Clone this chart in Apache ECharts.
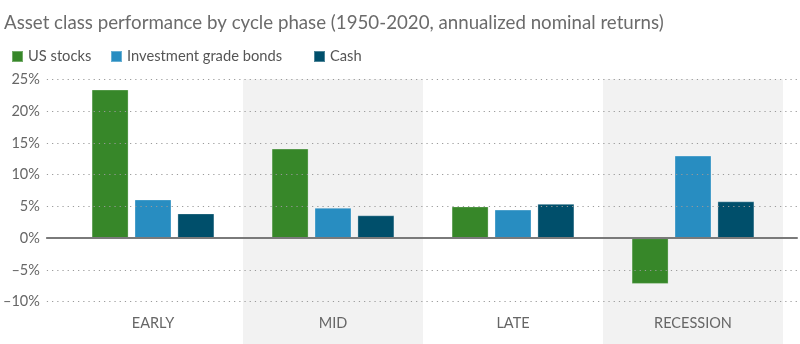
<!DOCTYPE html>
<html>
<head>
<meta charset="utf-8">
<script src="https://cdn.jsdelivr.net/npm/echarts@6/dist/echarts.min.js"></script>
<style>
html,body{margin:0;padding:0;background:#fff;}
#chart{width:800px;height:344px;}
</style>
</head>
<body>
<div id="chart"></div>
<script>
const titleText = 'Asset class performance by cycle phase (1950-2020, annualized nominal returns)';
const categories = ['EARLY', 'MID', 'LATE', 'RECESSION'];
const shadedCategories = ['MID', 'RECESSION'];
const seriesNames = ['US stocks', 'Investment grade bonds', 'Cash'];
const usStocks = [23.4, 14.1, 5.0, -7.2];
const bonds = [6.1, 4.8, 4.5, 13.0];
const cash = [3.9, 3.6, 5.4, 5.8];
const yTicks = [-10, -5, 0, 5, 10, 15, 20, 25];

const colors = ['#378729', '#288dc1', '#004f6b'];
const legendLefts = [6, 105, 308];
const FONT = 'Lato';

const chart = echarts.init(document.getElementById('chart'), null, {renderer: 'canvas'});

function fmt(v) {
  return (v < 0 ? '\u2013' + Math.abs(v) : String(v)) + '%';
}

const seriesData = [usStocks, bonds, cash];
const barSeries = seriesData.map((d, i) => ({
  name: seriesNames[i],
  type: 'bar',
  xAxisIndex: 1,
  yAxisIndex: 1,
  data: d,
  barWidth: 37,
  barGap: '16%',
  z: 2,
  itemStyle: {
    color: colors[i],
    borderColor: 'rgba(255,255,255,0.3)',
    borderWidth: 1
  }
}));

const legends = seriesNames.map((n, i) => ({
  data: [n],
  left: legendLefts[i],
  top: 44,
  icon: 'rect',
  itemWidth: 11,
  itemHeight: 11,
  textStyle: {fontFamily: FONT, fontSize: 14.7, color: '#555'}
}));

const option = {
  backgroundColor: '#ffffff',
  animation: false,
  title: {
    text: titleText,
    left: -1,
    top: 8,
    textStyle: {fontFamily: FONT, fontSize: 18.7, fontWeight: 'normal', color: '#6b6b6b'}
  },
  legend: legends,
  grid: [
    {left: 45, right: 3, top: 79.3, bottom: 42.3},
    {left: 63, right: 17, top: 79.3, bottom: 42.3},
    {left: 63, right: 17, top: 79.3, bottom: 0}
  ],
  xAxis: [
    {
      gridIndex: 0, type: 'category', data: categories,
      axisLine: {show: true, onZero: true, lineStyle: {color: '#7a7a7a', width: 2}},
      axisTick: {show: false}, axisLabel: {show: false}, splitLine: {show: false},
      z: 4
    },
    {
      gridIndex: 1, type: 'category', data: categories,
      axisLine: {show: false}, axisTick: {show: false},
      axisLabel: {fontFamily: FONT, fontSize: 14.5, color: '#666', margin: 14}
    },
    {
      gridIndex: 2, type: 'category', data: categories, show: false
    }
  ],
  yAxis: [
    {
      gridIndex: 0, type: 'value', min: -10, max: 25, interval: 5,
      axisLine: {show: false}, axisTick: {show: false},
      axisLabel: {fontFamily: FONT, fontSize: 14.5, color: '#666', margin: 7, formatter: fmt},
      splitLine: {show: true, lineStyle: {color: '#9a9a9a', width: 1.2, type: [1.2, 4]}},
      z: 3
    },
    {
      gridIndex: 1, type: 'value', min: -10, max: 25, interval: 5, show: false,
      splitLine: {show: false}
    },
    {
      gridIndex: 2, type: 'value', min: 0, max: 1, show: false, splitLine: {show: false}
    }
  ],
  series: [
    {
      type: 'bar',
      xAxisIndex: 2,
      yAxisIndex: 2,
      data: [],
      silent: true,
      z: 0,
      markArea: {
        silent: true,
        z: 0,
        itemStyle: {color: '#f2f2f2'},
        data: shadedCategories.map(c => [{xAxis: c, yAxis: 0}, {xAxis: c, yAxis: 1}])
      }
    },
    ...barSeries
  ]
};
chart.setOption(option);
</script>
</body>
</html>
